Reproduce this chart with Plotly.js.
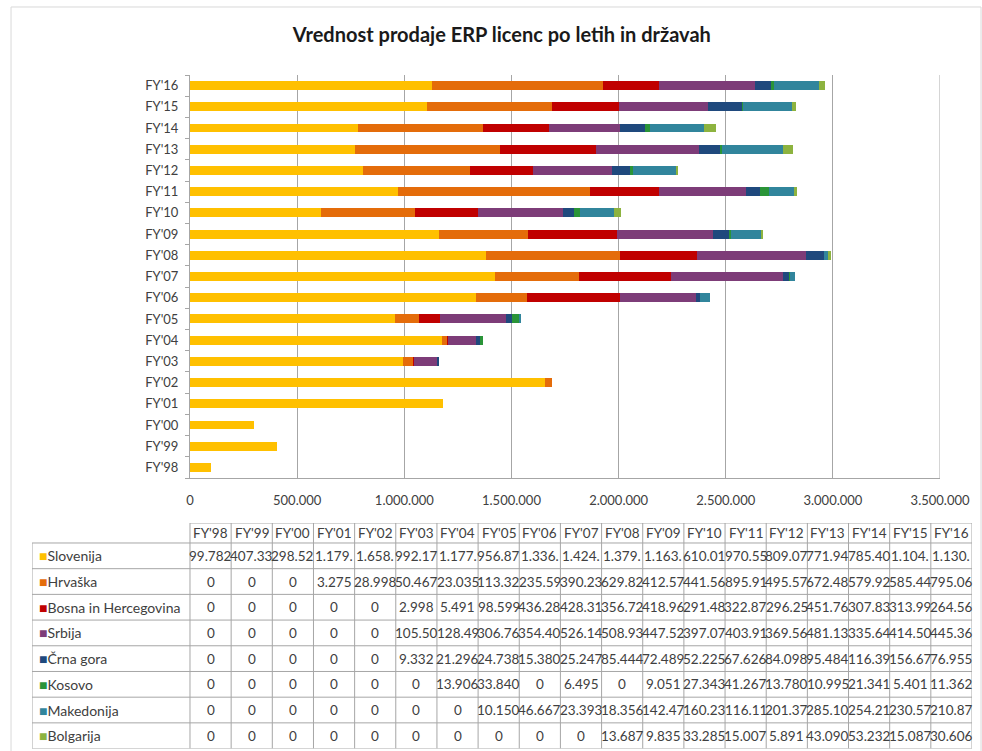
<!DOCTYPE html>
<html>
<head>
<meta charset="utf-8">
<script src="https://cdn.plot.ly/plotly-3.0.1.min.js"></script>
<style>html,body{margin:0;padding:0;background:#fff;}#chart{width:982px;height:751px;}</style>
</head>
<body>
<div id="chart"></div>
<script>
const years = ["FY'98","FY'99","FY'00","FY'01","FY'02","FY'03","FY'04","FY'05","FY'06","FY'07","FY'08","FY'09","FY'10","FY'11","FY'12","FY'13","FY'14","FY'15","FY'16"];
const seriesNames = ["Slovenija","Hrvaška","Bosna in Hercegovina","Srbija","Črna gora","Kosovo","Makedonija","Bolgarija"];
const seriesColors = ["#FFC000","#E46C0A","#C00000","#7D3C78","#1F497D","#2A9438","#31859C","#8DB33F"];
const slovenija  = [99782,407330,298520,1179000,1658000,992170,1177000,956870,1336000,1424000,1379000,1163000,610010,970550,809070,771940,785400,1104000,1130000];
const hrvaska    = [0,0,0,3275,28998,50467,23035,113320,235590,390230,629820,412570,441560,895910,495570,672480,579920,585440,795060];
const bosna      = [0,0,0,0,0,2998,5491,98599,436280,428310,356720,418960,291480,322870,296250,451760,307830,313990,264560];
const srbija     = [0,0,0,0,0,105500,128490,306760,354400,526140,508930,447520,397070,403910,369560,481130,335640,414500,445360];
const crnaGora   = [0,0,0,0,0,9332,21296,24738,15380,25247,85444,72489,52225,67626,84098,95484,116390,156670,76955];
const kosovo     = [0,0,0,0,0,0,13906,33840,0,6495,0,9051,27343,41267,13780,10995,21341,5401,11362];
const makedonija = [0,0,0,0,0,0,0,10150,46667,23393,18356,142470,160230,116110,201370,285100,254210,230570,210870];
const bolgarija  = [0,0,0,0,0,0,0,0,0,0,13687,9835,33285,15007,5891,43090,53232,15087,30606];
const xTickVals = [0,500000,1000000,1500000,2000000,2500000,3000000,3500000];

const seriesValues = [slovenija,hrvaska,bosna,srbija,crnaGora,kosovo,makedonija,bolgarija];

const FONT = "Lato, 'Open Sans', sans-serif";
const TXT = "#404040";
const GRID = "#A6A6A6";

// ---------- bars ----------
const traces = seriesNames.map((name, k) => ({
  type: 'bar', orientation: 'h', name: name,
  y: years, x: seriesValues[k],
  marker: {color: seriesColors[k], line: {width: 0}},
  xaxis: 'x', yaxis: 'y', showlegend: false,
  hovertemplate: name + ': %{x:,}<extra>%{y}</extra>'
}));
// empty trace so the table axes exist
traces.push({type: 'scatter', x: [], y: [], xaxis: 'x2', yaxis: 'y2', showlegend: false, hoverinfo: 'skip'});

// ---------- data table (drawn on hidden axes x2/y2: one unit per column / row) ----------
const nCols = years.length;
const nRows = seriesNames.length;
const LABEL_W = 158 / 41.16;   // label column width in column units
const HEAD_H = 20 / 25.7;      // header height in row units

function fmt(n){
  return String(n).replace(/\B(?=(\d{3})+(?!\d))/g, '.').slice(0, 6);
}

const annotations = [];
const shapes = [];
const lineStyle = {color: GRID, width: 1};
const cellFont = {family: FONT, size: 13.5, color: TXT};

years.forEach((y, i) => {
  annotations.push({xref: 'x2', yref: 'y2', x: i + 0.5, y: -HEAD_H / 2, text: y, showarrow: false,
    xanchor: 'center', yanchor: 'middle', font: cellFont});
  seriesValues.forEach((s, r) => {
    annotations.push({xref: 'x2', yref: 'y2', x: i + 0.5, y: r + 0.5, text: fmt(s[i]), showarrow: false,
      xanchor: 'center', yanchor: 'middle', font: cellFont});
  });
});
seriesNames.forEach((n, r) => {
  annotations.push({xref: 'x2', yref: 'y2', x: -LABEL_W + 0.12, y: r + 0.5,
    text: "<span style='color:" + seriesColors[r] + "'>■</span>" + n, showarrow: false,
    xanchor: 'left', yanchor: 'middle', font: {family: FONT, size: 14, color: TXT}});
});

// grid lines of the table
for (let i = 0; i <= nCols; i++) {
  shapes.push({type: 'line', xref: 'x2', yref: 'y2', x0: i, x1: i, y0: -HEAD_H, y1: nRows, line: lineStyle});
}
shapes.push({type: 'line', xref: 'x2', yref: 'y2', x0: -LABEL_W, x1: -LABEL_W, y0: 0, y1: nRows, line: lineStyle});
shapes.push({type: 'line', xref: 'x2', yref: 'y2', x0: 0, x1: nCols, y0: -HEAD_H, y1: -HEAD_H, line: lineStyle});
for (let r = 0; r <= nRows; r++) {
  shapes.push({type: 'line', xref: 'x2', yref: 'y2', x0: -LABEL_W, x1: nCols, y0: r, y1: r, line: lineStyle});
}
// last vertical gridline of the bar chart (at the right end of the axis range)
shapes.push({type: 'line', xref: 'x', yref: 'y domain', x0: xTickVals[xTickVals.length - 1], x1: xTickVals[xTickVals.length - 1],
  y0: 0, y1: 1, line: lineStyle, layer: 'below'});
// outer frame of the chart
shapes.push({type: 'rect', xref: 'paper', yref: 'paper', x0: -0.0223, x1: 1.0096, y0: -0.02, y1: 1.1006,
  line: {color: '#D9D9D9', width: 1}, fillcolor: 'rgba(0,0,0,0)', layer: 'below'});

const layout = {
  width: 982, height: 751,
  margin: {l: 32, r: 10, t: 75, b: 0},
  paper_bgcolor: '#ffffff', plot_bgcolor: '#ffffff',
  separators: ',.',
  barmode: 'stack',
  bargap: 0.58,
  showlegend: false,
  font: {family: FONT, color: TXT, size: 12},
  title: {
    text: '<b>Vrednost prodaje ERP licenc po letih in državah</b>',
    font: {family: FONT, size: 20, color: '#1a1a1a'},
    x: 0.511, xanchor: 'center', y: 0.953, yanchor: 'middle'
  },
  xaxis: {
    domain: [0.1681, 0.9660],
    range: [0, 3500000],
    tickvals: xTickVals,
    tickformat: ',d',
    showgrid: true, gridcolor: GRID, gridwidth: 1,
    showline: true, linecolor: GRID, linewidth: 1,
    zeroline: false, ticks: '',
    ticklabelstandoff: 10,
    tickfont: {family: FONT, size: 13, color: TXT},
    fixedrange: true
  },
  yaxis: {
    domain: [0.4038, 1],
    type: 'category',
    categoryorder: 'array', categoryarray: years,
    showgrid: false,
    showline: true, linecolor: GRID, linewidth: 1,
    ticks: 'outside', tickson: 'boundaries', ticklen: 4, tickcolor: GRID,
    ticklabelstandoff: 8,
    tickfont: {family: FONT, size: 13, color: TXT},
    fixedrange: true
  },
  xaxis2: {
    domain: [0, 1], anchor: 'y2',
    range: [-LABEL_W, nCols + 0.0], visible: false, fixedrange: true
  },
  yaxis2: {
    domain: [0.0036, 0.3373], anchor: 'x2',
    range: [nRows, -HEAD_H], visible: false, fixedrange: true
  },
  annotations: annotations,
  shapes: shapes
};

Plotly.newPlot('chart', traces, layout, {displayModeBar: false, staticPlot: true});
</script>
</body>
</html>
